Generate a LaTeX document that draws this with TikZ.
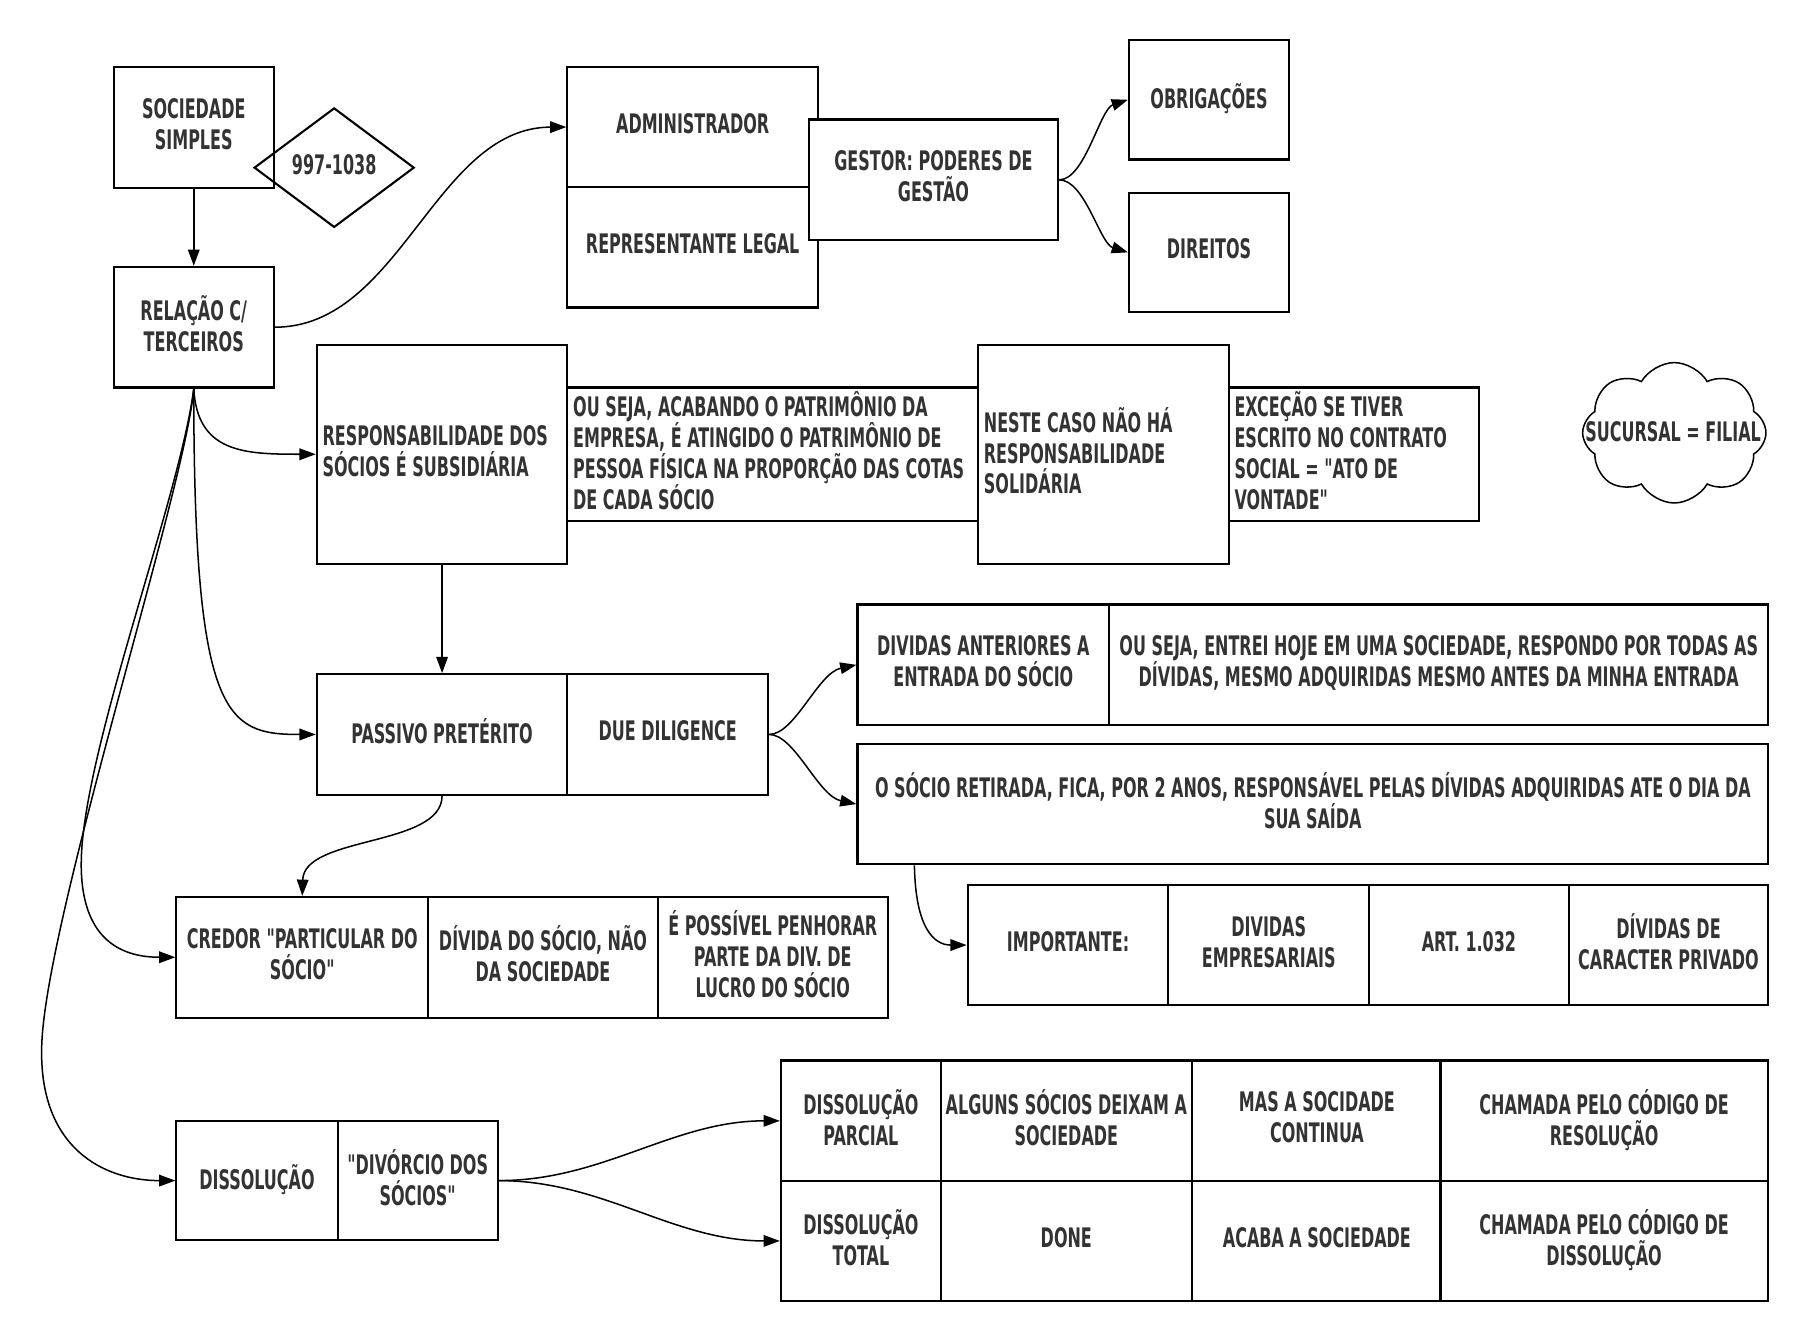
\documentclass[tikz,border=0pt]{standalone}
\usepackage{fontspec}
\newfontfamily\dgf{DejaVu Sans Condensed}[FakeStretch=0.66]
\usetikzlibrary{shapes.geometric,shapes.symbols,arrows.meta,calc}
\definecolor{txt}{HTML}{333333}
\newcommand\dgfont{\dgf\bfseries\fontsize{11.6}{13.3}\selectfont}
\newcommand\dgtail{\endgraf\vspace*{3pt}}
\begin{document}
\begin{tikzpicture}[x=0.5pt,y=-0.5pt,
  bx/.style 2 args={draw=black,line width=0.9pt,fill=white,minimum width=#1*0.5pt,minimum height=#2*0.5pt,inner sep=0pt,align=center,text=txt,font=\dgfont,text depth=3pt},
  lb/.style 2 args={draw=black,line width=0.9pt,fill=white,text width=#1,minimum height=#2*0.5pt,inner xsep=2.5pt,inner ysep=0pt,align=flush left,text=txt,font=\dgfont,execute at end node=\dgtail},
  arr/.style={draw=black,line width=0.65pt,-{Triangle[length=7pt,width=5pt]}}]
\useasboundingbox (0,0) rectangle (1566,1155);
% top-left
\node[bx={138}{104}] (soc) at (167,110) {SOCIEDADE\\SIMPLES};
\node[draw=black,line width=0.9pt,diamond,minimum width=138*0.5pt,minimum height=103*0.5pt,inner sep=0pt,text=txt,font=\dgfont,text depth=3pt] (dia) at (288,144.5) {997-1038};
\node[bx={138}{104}] (rel) at (167,282) {RELAÇÃO C/\\TERCEIROS};
% administrador
\node[bx={216}{103}] (adm) at (597,109.5) {ADMINISTRADOR};
\node[bx={216}{104}] (rep) at (597,213) {REPRESENTANTE LEGAL};
\node[bx={215}{104}] (ges) at (804.5,155) {GESTOR: PODERES DE\\GESTÃO};
\node[bx={138}{103}] (obr) at (1042,86) {OBRIGAÇÕES};
\node[bx={138}{103}] (dir) at (1042,217.5) {DIREITOS};
% responsabilidade row
\node[lb={103pt}{189}] (resp) at (381,391.5) {\mbox{RESPONSABILIDADE DOS}\\\mbox{SÓCIOS É SUBSIDIÁRIA}};
\node[lb={172pt}{115}] (ous) at (666,391.5) {\mbox{OU SEJA, ACABANDO O PATRIMÔNIO DA}\\\mbox{EMPRESA, É ATINGIDO O PATRIMÔNIO DE}\\\mbox{PESSOA FÍSICA NA PROPORÇÃO DAS COTAS}\\\mbox{DE CADA SÓCIO}};
\node[lb={103pt}{189}] (nes) at (951,391.5) {\mbox{NESTE CASO NÃO HÁ}\\\mbox{RESPONSABILIDADE}\\\mbox{SOLIDÁRIA}};
\node[lb={103pt}{115}] (exc) at (1167,391.5) {\mbox{EXCEÇÃO SE TIVER}\\\mbox{ESCRITO NO CONTRATO}\\\mbox{SOCIAL = "ATO DE}\\\mbox{VONTADE"}};
\node[cloud,cloud puffs=8,cloud puff arc=120,cloud ignores aspect,draw=black,line width=0.65pt,minimum width=158*0.5pt,minimum height=121*0.5pt,inner sep=0pt] (cl) at (1443,373) {};
\node[text=txt,font=\dgfont,inner sep=0pt] (suc) at (1442,372) {SUCURSAL = FILIAL};
% passivo
\node[bx={216}{104}] (pas) at (381,633) {PASSIVO PRETÉRITO};
\node[bx={173}{104}] (due) at (575.5,633) {DUE DILIGENCE};
\node[bx={217}{104}] (dant) at (847.5,573) {DIVIDAS ANTERIORES A\\ENTRADA DO SÓCIO};
\node[bx={568}{104}] (ous2) at (1240,573) {OU SEJA, ENTREI HOJE EM UMA SOCIEDADE, RESPONDO POR TODAS AS\\DÍVIDAS, MESMO ADQUIRIDAS MESMO ANTES DA MINHA ENTRADA};
\node[bx={785}{104}] (osoc) at (1131.5,693) {O SÓCIO RETIRADA, FICA, POR 2 ANOS, RESPONSÁVEL PELAS DÍVIDAS ADQUIRIDAS ATE O DIA DA\\SUA SAÍDA};
\node[bx={173}{103}] (imp) at (920.5,814.5) {IMPORTANTE:};
\node[bx={173}{103}] (demp) at (1093.5,814.5) {DIVIDAS\\EMPRESARIAIS};
\node[bx={172}{103}] (art) at (1266,814.5) {ART. 1.032};
\node[bx={172}{103}] (dpriv) at (1438,814.5) {DÍVIDAS DE\\CARACTER PRIVADO};
% credor
\node[bx={217}{104}] (cred) at (260.5,825) {CREDOR "PARTICULAR DO\\SÓCIO"};
\node[bx={198}{104}] (dsoc) at (468,825) {DÍVIDA DO SÓCIO, NÃO\\DA SOCIEDADE};
\node[bx={198}{104}] (epos) at (666,825) {É POSSÍVEL PENHORAR\\PARTE DA DIV. DE\\LUCRO DO SÓCIO};
% dissolucao
\node[bx={139}{103}] (diss) at (221.5,1017.5) {DISSOLUÇÃO};
\node[bx={138}{103}] (divo) at (360,1017.5) {"DIVÓRCIO DOS\\SÓCIOS"};
\node[bx={138}{104}] (dp) at (742,966) {DISSOLUÇÃO\\PARCIAL};
\node[bx={216}{104}] (alg) at (919,966) {ALGUNS SÓCIOS DEIXAM A\\SOCIEDADE};
\node[bx={216}{104}] (mas) at (1135,966) {MAS A SOCIDADE\\CONTINUA};
\node[bx={282}{104}] (cr) at (1382.5,966) {CHAMADA PELO CÓDIGO DE\\RESOLUÇÃO};
\node[bx={138}{103}] (dt) at (742,1069.5) {DISSOLUÇÃO\\TOTAL};
\node[bx={216}{103}] (done) at (919,1069.5) {DONE};
\node[bx={216}{103}] (aca) at (1135,1069.5) {ACABA A SOCIEDADE};
\node[bx={282}{103}] (cd) at (1382.5,1069.5) {CHAMADA PELO CÓDIGO DE\\DISSOLUÇÃO};
% connectors
\draw[arr] (soc) -- (rel);
\draw[arr] (rel.east) .. controls (345,282) and (375,110) .. (adm.west);
\draw[arr] (ges.east) .. controls (935,155) and (948,94) .. (obr.west);
\draw[arr] (ges.east) .. controls (935,155) and (948,210) .. (dir.west);
\draw[arr] (rel.south) .. controls (170,390) and (210,391.5) .. (resp.west);
\draw[arr] (rel.south) .. controls (167,620) and (195,633) .. (pas.west);
\draw[arr] (rel.south) .. controls (155,430) and (70,650) .. (70,745) .. controls (70,800) and (95,825) .. (cred.west);
\draw[arr] (rel.south) .. controls (160,420) and (40,790) .. (36,900) .. controls (32.7,990) and (90,1017.5) .. (diss.west);
\draw[arr] (resp) -- (pas);
\draw[arr] (pas.south) .. controls (381,730) and (262,720) .. (cred.north);
\draw[arr] (due.east) .. controls (685,633) and (705,580) .. (dant.west);
\draw[arr] (due.east) .. controls (685,633) and (705,686) .. (osoc.west);
\draw[arr] ($(osoc.south west)+(50,0)$) .. controls (789,800) and (805,814.5) .. (imp.west);
\draw[arr] (divo.east) .. controls (520,1017.5) and (580,966) .. (dp.west);
\draw[arr] (divo.east) .. controls (520,1017.5) and (580,1069.5) .. (dt.west);
\end{tikzpicture}
\end{document}
